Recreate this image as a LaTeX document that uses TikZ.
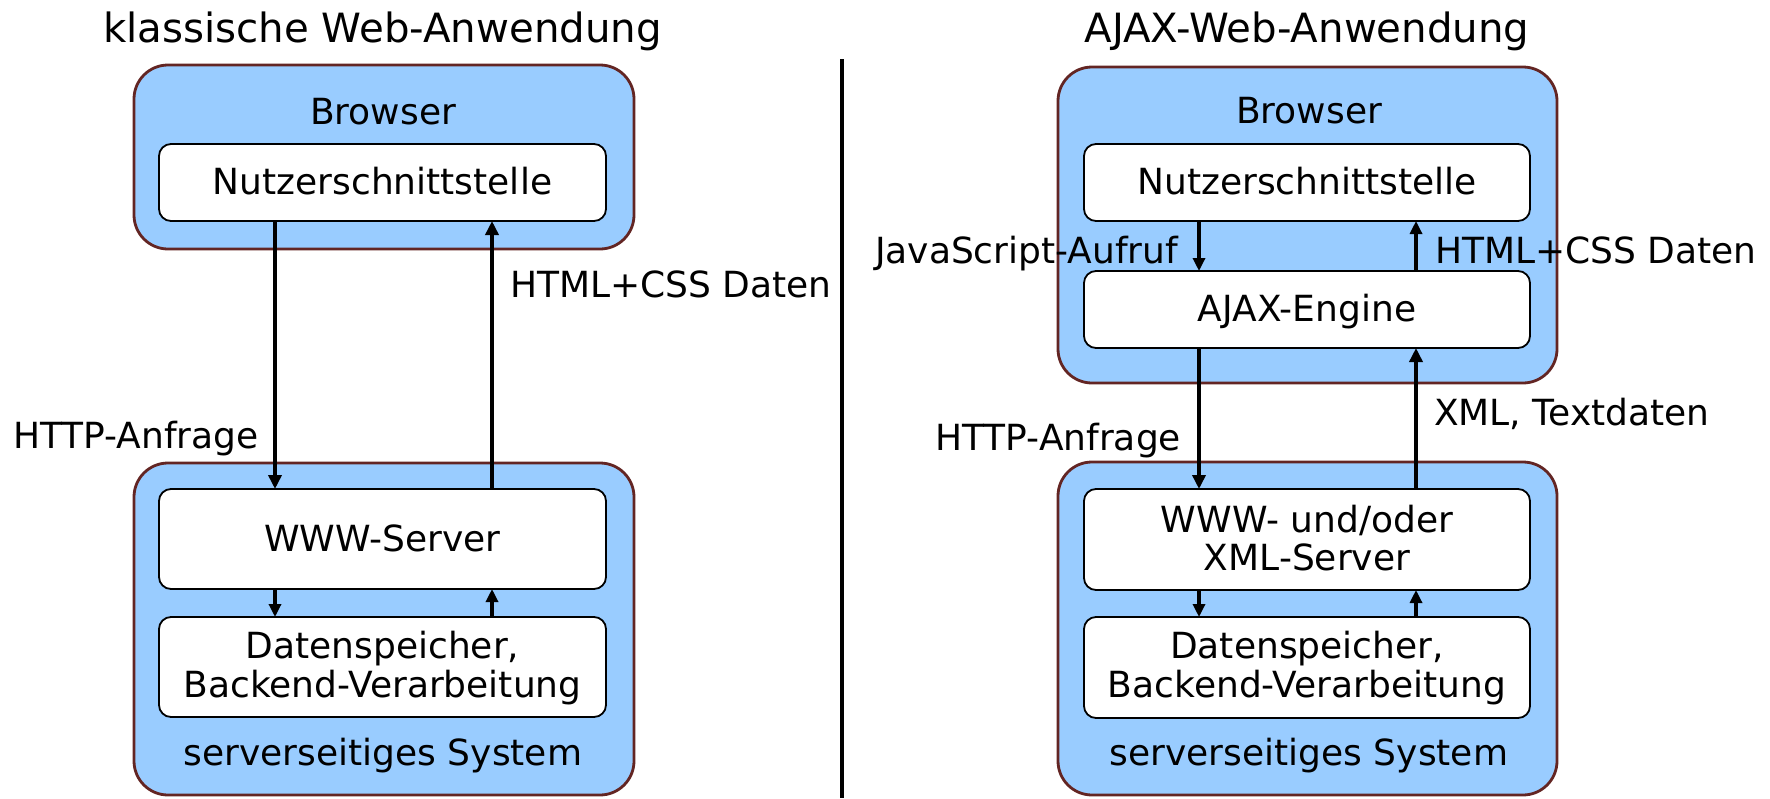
\documentclass[tikz,border=0pt]{standalone}
\usepackage{fontspec}
\setmainfont{DejaVu Sans}
\usetikzlibrary{arrows.meta}
\definecolor{fillc}{RGB}{153,204,255}
\definecolor{bordc}{RGB}{99,37,35}
\tikzset{
  outerbox/.style={draw=bordc, fill=fillc, line width=2.8pt, rounded corners=34pt, inner sep=0pt, outer sep=0pt},
  innerbox/.style={draw=black, fill=white, line width=1.8pt, rounded corners=12pt, inner sep=0pt, outer sep=0pt},
  lbl/.style={font=\fontsize{36}{39}\selectfont, inner sep=0pt, outer sep=0pt},
  ttl/.style={font=\fontsize{40.3}{44}\selectfont, inner sep=0pt, outer sep=0pt, anchor=base},
  arr/.style={-{Triangle[length=14pt,width=13pt]}, line width=4pt},
  sarr/.style={-{Triangle[length=13pt,width=12pt]}, line width=3.2pt},
}
\begin{document}
\begin{tikzpicture}[x=1pt,y=-1pt]
\useasboundingbox (0,0) rectangle (1770,798);

% titles
\node[ttl] (t1) at (382.5,42) {klassische Web-Anwendung};
\node[ttl] (t2) at (1307,42) {AJAX-Web-Anwendung};

% divider
\coordinate (dtop) at (842,59);
\coordinate (dbot) at (842,798);
\draw[line width=3.5pt] (dtop) -- (dbot);

% ---------- left ----------
\node[outerbox, minimum width=500pt, minimum height=184pt] (brL) at (384,157) {};
\node[lbl, anchor=base] (brLt) at (383,124) {Browser};
\node[innerbox, minimum width=447pt, minimum height=77pt] (nuL) at (382.5,182.5) {};
\node[lbl, anchor=base] (nuLt) at (382.5,194) {Nutzerschnittstelle};

\node[outerbox, minimum width=500pt, minimum height=332pt] (svL) at (384,629) {};
\node[innerbox, minimum width=447pt, minimum height=100pt] (wwL) at (382.5,539) {};
\node[lbl, anchor=base] (wwLt) at (382.5,551) {WWW-Server};
\node[innerbox, minimum width=447pt, minimum height=100pt] (dsL) at (382.5,667) {};
\node[lbl, anchor=base] (dsLt1) at (382.5,658) {Datenspeicher,};
\node[lbl, anchor=base] (dsLt2) at (382.5,697) {Backend-Verarbeitung};
\node[lbl, anchor=base] (svLt) at (383,765) {serverseitiges System};

\coordinate (xLd) at (275,0);
\coordinate (xLu) at (492,0);
\draw[arr] (nuL.south -| xLd) -- (wwL.north -| xLd);
\draw[arr] (wwL.north -| xLu) -- (nuL.south -| xLu);
\draw[sarr] (wwL.south -| xLd) -- (dsL.north -| xLd);
\draw[sarr] (dsL.north -| xLu) -- (wwL.south -| xLu);

\node[lbl, anchor=base west] (httpL) at (13,448) {HTTP-Anfrage};
\node[lbl, anchor=base west] (htmlL) at (510,297) {HTML+CSS Daten};

% ---------- right ----------
\node[outerbox, minimum width=499pt, minimum height=316pt] (brR) at (1307.5,225) {};
\node[lbl, anchor=base] (brRt) at (1309,123) {Browser};
\node[innerbox, minimum width=446pt, minimum height=77pt] (nuR) at (1307,182.5) {};
\node[lbl, anchor=base] (nuRt) at (1307,194) {Nutzerschnittstelle};
\node[innerbox, minimum width=446pt, minimum height=77pt] (ajR) at (1307,309.5) {};
\node[lbl, anchor=base] (ajRt) at (1307,321) {AJAX-Engine};

\node[outerbox, minimum width=499pt, minimum height=333pt] (svR) at (1307.5,628.5) {};
\node[innerbox, minimum width=446pt, minimum height=101pt] (wwR) at (1307,539.5) {};
\node[lbl, anchor=base] (wwRt1) at (1307,532) {WWW- und/oder};
\node[lbl, anchor=base] (wwRt2) at (1307,570) {XML-Server};
\node[innerbox, minimum width=446pt, minimum height=101pt] (dsR) at (1307,667.5) {};
\node[lbl, anchor=base] (dsRt1) at (1307,658) {Datenspeicher,};
\node[lbl, anchor=base] (dsRt2) at (1307,697) {Backend-Verarbeitung};
\node[lbl, anchor=base] (svRt) at (1309,765) {serverseitiges System};

\coordinate (xRd) at (1199,0);
\coordinate (xRu) at (1416,0);
\draw[sarr] (nuR.south -| xRd) -- (ajR.north -| xRd);
\draw[sarr] (ajR.north -| xRu) -- (nuR.south -| xRu);
\draw[arr] (ajR.south -| xRd) -- (wwR.north -| xRd);
\draw[arr] (wwR.north -| xRu) -- (ajR.south -| xRu);
\draw[sarr] (wwR.south -| xRd) -- (dsR.north -| xRd);
\draw[sarr] (dsR.north -| xRu) -- (wwR.south -| xRu);

\node[lbl, anchor=base west] (jsR) at (875,263) {JavaScript-Aufruf};
\node[lbl, anchor=base west] (htmlR) at (1435,263) {HTML+CSS Daten};
\node[lbl, anchor=base east] (httpR) at (1181,450) {HTTP-Anfrage};
\node[lbl, anchor=base west] (xmlR) at (1434,425) {XML, Textdaten};
\end{tikzpicture}
\end{document}
